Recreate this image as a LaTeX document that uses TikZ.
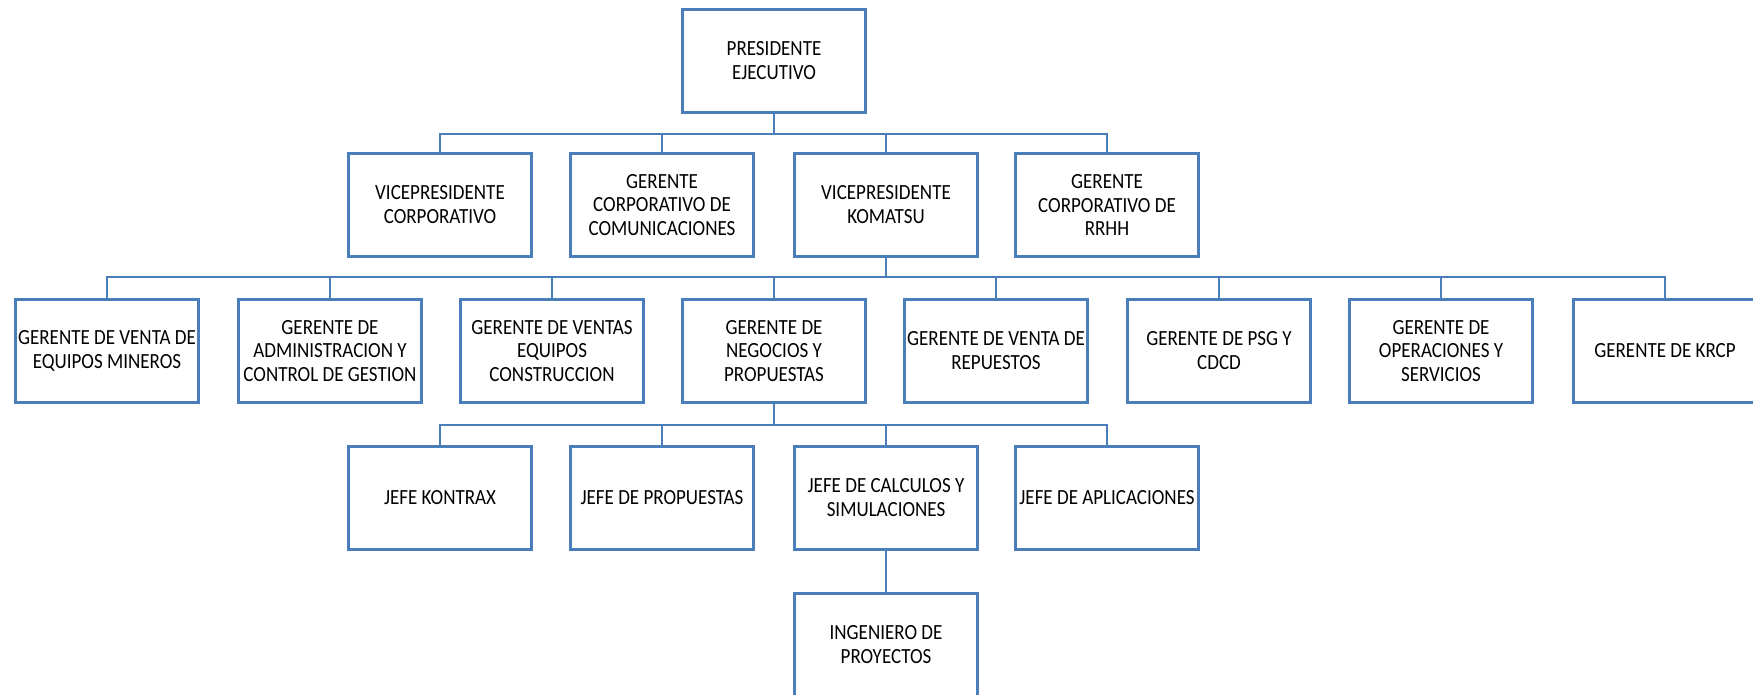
\documentclass[tikz,border=0pt]{standalone}
\usepackage{fontspec}
\setmainfont{Carlito}[FakeStretch=0.88]
\definecolor{orgblue}{RGB}{74,126,187}
\begin{document}
\begin{tikzpicture}[x=0.02cm,y=-0.02cm,
  cargo/.style={draw=orgblue,line width=1.8pt,fill=white,minimum width=3.66cm,minimum height=2.06cm,
    inner sep=0pt,align=center,font=\fontsize{12.3}{13.6}\selectfont},
  link/.style={draw=orgblue,line width=1.5pt}]
\useasboundingbox (0,0) rectangle (1753,695);
\clip (0,0) rectangle (1753,695);
\coordinate (b1) at (0,134);
\coordinate (b2) at (0,277);
\coordinate (b3) at (0,425);
\node[cargo] (pres) at (774,61) {PRESIDENTE\\EJECUTIVO};
\node[cargo] (vpc) at (440,205) {VICEPRESIDENTE\\CORPORATIVO};
\node[cargo] (gcc) at (662,205) {GERENTE\\CORPORATIVO DE\\COMUNICACIONES};
\node[cargo] (vpk) at (886,205) {VICEPRESIDENTE\\KOMATSU};
\node[cargo] (gcr) at (1107,205) {GERENTE\\CORPORATIVO DE\\RRHH};
\node[cargo] (gvm) at (107,351) {GERENTE DE VENTA DE\\EQUIPOS MINEROS};
\node[cargo] (gac) at (330,351) {GERENTE DE\\ADMINISTRACION Y\\CONTROL DE GESTION};
\node[cargo] (gve) at (552,351) {GERENTE DE VENTAS\\EQUIPOS\\CONSTRUCCION};
\node[cargo] (gnp) at (774,351) {GERENTE DE\\NEGOCIOS Y\\PROPUESTAS};
\node[cargo] (gvr) at (996,351) {GERENTE DE VENTA DE\\REPUESTOS};
\node[cargo] (gps) at (1219,351) {GERENTE DE PSG Y\\CDCD};
\node[cargo] (gos) at (1441,351) {GERENTE DE\\OPERACIONES Y\\SERVICIOS};
\node[cargo] (gkr) at (1665,351) {GERENTE DE KRCP};
\node[cargo] (jkx) at (440,498) {JEFE KONTRAX};
\node[cargo] (jpr) at (662,498) {JEFE DE PROPUESTAS};
\node[cargo] (jcs) at (886,498) {JEFE DE CALCULOS Y\\SIMULACIONES};
\node[cargo] (jap) at (1107,498) {JEFE DE APLICACIONES};
\node[cargo] (ipr) at (886,645) {INGENIERO DE\\PROYECTOS};
\draw[link] (pres.south) -- (pres |- b1);
\draw[link] (vpc.north) -- (vpc |- b1) -- (gcr |- b1) -- (gcr.north);
\foreach \n in {gcc,vpk} \draw[link] (\n.north) -- (\n |- b1);
\draw[link] (vpk.south) -- (vpk |- b2);
\draw[link] (gvm.north) -- (gvm |- b2) -- (gkr |- b2) -- (gkr.north);
\foreach \n in {gac,gve,gnp,gvr,gps,gos} \draw[link] (\n.north) -- (\n |- b2);
\draw[link] (gnp.south) -- (gnp |- b3);
\draw[link] (jkx.north) -- (jkx |- b3) -- (jap |- b3) -- (jap.north);
\foreach \n in {jpr,jcs} \draw[link] (\n.north) -- (\n |- b3);
\draw[link] (jcs.south) -- (ipr.north);
\end{tikzpicture}
\end{document}
